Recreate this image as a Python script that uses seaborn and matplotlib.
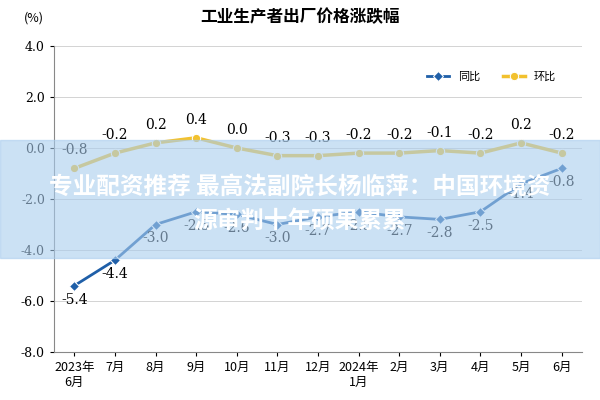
import matplotlib
matplotlib.use("Agg")
import matplotlib.pyplot as plt
import seaborn as sns
import pandas as pd

months = ["2023年\n6月","7月","8月","9月","10月","11月","12月","2024年\n1月","2月","3月","4月","5月","6月"]
yoy = [-5.4,-4.4,-3.0,-2.5,-2.6,-3.0,-2.7,-2.5,-2.7,-2.8,-2.5,-1.4,-0.8]
mom = [-0.8,-0.2,0.2,0.4,0.0,-0.3,-0.3,-0.2,-0.2,-0.1,-0.2,0.2,-0.2]

plt.rcParams["font.family"] = "Noto Sans CJK SC"
df = pd.DataFrame({"x": range(len(months)), "同比": yoy, "环比": mom})
fig, ax = plt.subplots(figsize=(6, 4), dpi=100)
fig.subplots_adjust(left=0.09, right=0.97, top=0.885, bottom=0.12)
blue, yellow = "#1f5fa8", "#f2c12e"
sns.lineplot(data=df, x="x", y="同比", ax=ax, color=blue, marker="D", markersize=5, lw=2, label="同比")
sns.lineplot(data=df, x="x", y="环比", ax=ax, color=yellow, marker="o", markersize=6, lw=2.5, label="环比")
for i, (a, b) in enumerate(zip(yoy, mom)):
    ax.text(i, b + 0.55, f"{b:.1f}", ha="center", fontsize=10, family="serif")
    ax.text(i, a - 0.7 if i != 11 else a - 0.55, f"{a:.1f}", ha="center", fontsize=10, family="serif")
ax.set_ylim(-8, 4)
ax.set_xlim(-0.5, 12.5)
ax.set_yticks([-8, -6, -4, -2, 0, 2, 4])
ax.set_yticklabels([f"{v:.1f}" for v in [-8, -6, -4, -2, 0, 2, 4]], fontsize=9, family="serif")
ax.set_xticks(range(len(months)))
ax.set_xticklabels(months, fontsize=9)
ax.set_xlabel(""); ax.set_ylabel("")
ax.grid(axis="y", color="#cccccc", lw=0.6)
for s in ["top", "right"]:
    ax.spines[s].set_visible(False)
ax.spines["left"].set_color("#888888"); ax.spines["bottom"].set_color("#888888")
ax.tick_params(length=3)
ax.legend(loc="upper right", bbox_to_anchor=(0.97, 0.95), ncol=2, frameon=False, fontsize=8)
fig.text(0.5, 0.945, "工业生产者出厂价格涨跌幅", ha="center", fontsize=12, weight="bold")
fig.text(0.04, 0.945, "(%)", fontsize=9)
# overlay banner
fig.patches.append(plt.Rectangle((0, 0.355), 1, 0.295, transform=fig.transFigure, color="#a9cdee", alpha=0.6, zorder=5))
fig.text(0.5, 0.515, "专业配资推荐 最高法副院长杨临萍：中国环境资", ha="center", fontsize=17, color="white", weight="bold", zorder=6)
fig.text(0.5, 0.43, "源审判十年硕果累累", ha="center", fontsize=17, color="white", weight="bold", zorder=6)
fig.savefig("out.png", dpi=100)
